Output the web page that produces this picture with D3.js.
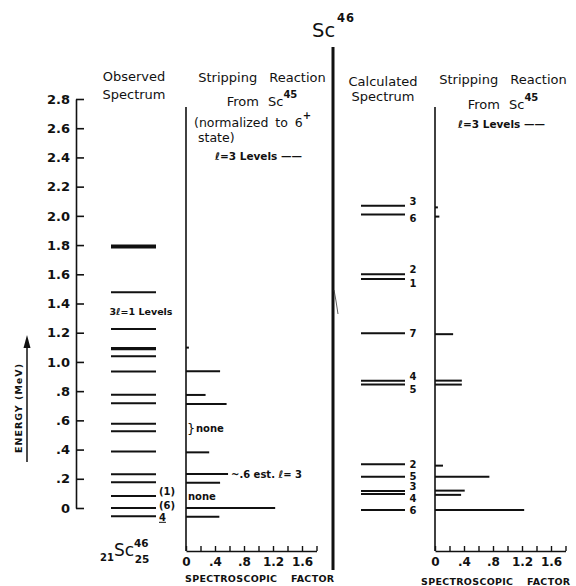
<!DOCTYPE html>
<html>
<head>
<meta charset="utf-8">
<script src="https://cdn.jsdelivr.net/npm/d3@7"></script>
<style>
  body { margin: 0; background: #fff; }
  text { font-family: "DejaVu Sans", sans-serif; fill: #111; }
</style>
</head>
<body>
<svg id="chart"></svg>
<script>
// energy axis (MeV)
const energyTicks = [0, 0.2, 0.4, 0.6, 0.8, 1.0, 1.2, 1.4, 1.6, 1.8, 2.0, 2.2, 2.4, 2.6, 2.8];
const energyTickLabels = ["0", ".2", ".4", ".6", ".8", "1.0", "1.2", "1.4", "1.6", "1.8", "2.0", "2.2", "2.4", "2.6", "2.8"];

// spectroscopic factor axis
const factorTicks = [0, 0.2, 0.4, 0.6, 0.8, 1.0, 1.2, 1.4, 1.6, 1.8];
const factorTickLabels = ["0", "", ".4", "", ".8", "", "1.2", "", "1.6", ""];

// observed spectrum levels
const observedE = [1.797, 1.790, 1.783, 1.477, 1.226, 1.096, 1.086, 1.039, 0.934, 0.776, 0.717, 0.577, 0.525, 0.386, 0.231, 0.176, 0.082, 0.0, -0.057];
const observedLabelE = [0.082, 0.0, -0.057];
const observedLabels = ["(1)", "(6)", "4"];

// stripping reaction (left panel)
const stripLeftE = [1.098, 0.936, 0.774, 0.712, 0.381, 0.233, 0.173, 0.0, -0.06];
const stripLeftS = [0.04, 0.47, 0.27, 0.56, 0.32, 0.58, 0.47, 1.23, 0.46];

// calculated spectrum
const calcE = [2.07, 2.01, 1.60, 1.568, 1.197, 0.872, 0.845, 0.299, 0.214, 0.116, 0.096, -0.014];
const calcJ = ["3", "6", "2", "1", "7", "4", "5", "2", "5", "3", "4", "6"];

// stripping reaction (right panel)
const stripRightE = [2.058, 1.995, 1.19, 0.872, 0.845, 0.29, 0.214, 0.119, 0.09, -0.014];
const stripRightS = [0.04, 0.06, 0.25, 0.37, 0.37, 0.11, 0.75, 0.41, 0.36, 1.23];

const width = 576, height = 586;
const svg = d3.select("#chart").attr("width", width).attr("height", height);

const yE = d3.scaleLinear().domain([0, 2.8]).range([508, 99]);
const xL = d3.scaleLinear().domain([0, 1.8]).range([186, 316.5]);
const xR = d3.scaleLinear().domain([0, 1.8]).range([435, 565.5]);

// title
const title = svg.append("text").attr("x", 312).attr("y", 37).style("font-size", "19.5px");
title.append("tspan").text("Sc");
title.append("tspan").attr("dy", -15).attr("dx", 2).style("font-size", "11.5px")
  .style("font-weight", "bold").style("letter-spacing", "1px").text("46");

// center divider
svg.append("line")
  .attr("x1", 333).attr("x2", 333).attr("y1", 47).attr("y2", 570)
  .attr("stroke", "#111").attr("stroke-width", 3);
svg.append("path")
  .attr("d", "M334,290 Q336,300 338,314")
  .attr("fill", "none").attr("stroke", "#333").attr("stroke-width", 0.8);

// energy axis
const yAxis = svg.append("g")
  .attr("transform", "translate(76,0)")
  .call(d3.axisLeft(yE).tickValues(energyTicks).tickSize(-8).tickSizeOuter(0).tickPadding(6)
    .tickFormat((d, i) => energyTickLabels[i]));
yAxis.select(".domain").attr("stroke", "#111").attr("stroke-width", 1.6);
yAxis.selectAll(".tick line").attr("stroke", "#111").attr("stroke-width", 1.6);
yAxis.selectAll(".tick text")
  .attr("fill", "#111")
  .style("font-size", "13px").style("font-weight", "bold")
  .style("font-family", "DejaVu Sans, sans-serif");

// energy label + arrow
svg.append("text")
  .attr("transform", "translate(21.5,408) rotate(-90)")
  .attr("text-anchor", "middle")
  .style("font-size", "9.5px").style("font-weight", "bold").style("letter-spacing", "1px")
  .text("ENERGY (MeV)");
svg.append("line")
  .attr("x1", 27).attr("x2", 27).attr("y1", 462).attr("y2", 345)
  .attr("stroke", "#111").attr("stroke-width", 1.5);
svg.append("path").attr("d", "M27,335 L23.5,348 L30.5,348 Z").attr("fill", "#111");

// column headings
function heading(lines, x) {
  lines.forEach(l => {
    const t = svg.append("text").attr("x", x).attr("y", l.y)
      .attr("text-anchor", l.anchor || "middle")
      .style("font-size", (l.size || 13) + "px")
      .style("word-spacing", (l.ws || 0) + "px");
    t.append("tspan").text(l.text);
    if (l.sup) {
      t.append("tspan").attr("dy", -8).style("font-size", "10px").style("font-weight", "bold").text(l.sup);
    }
  });
}
heading([{ text: "Observed", y: 81 }, { text: "Spectrum", y: 99 }], 134);
heading([{ text: "Stripping Reaction", y: 82, ws: 8 }, { text: "From Sc", sup: "45", y: 106, ws: 5 }], 262);
svg.append("text").attr("x", 194).attr("y", 127).style("font-size", "12.5px").style("word-spacing", "3px")
  .text("(normalized to 6")
  .append("tspan").attr("dy", -8).style("font-size", "10px").style("font-weight", "bold").text("+");
svg.append("text").attr("x", 198).attr("y", 142).style("font-size", "12.5px").text("state)");
heading([{ text: "Calculated", y: 86 }, { text: "Spectrum", y: 101 }], 383);
heading([{ text: "Stripping Reaction", y: 84, ws: 8 }, { text: "From Sc", sup: "45", y: 109, ws: 5 }], 503);

function levelsNote(x, y) {
  const t = svg.append("text").attr("x", x).attr("y", y).style("font-size", "10.5px").style("font-weight", "bold");
  t.append("tspan").style("font-style", "italic").text("ℓ");
  t.append("tspan").text("=3 Levels ——");
}
levelsNote(215, 160);
levelsNote(458, 128);

// observed spectrum
svg.append("g").selectAll("line").data(observedE).join("line")
  .attr("x1", 111).attr("x2", 156)
  .attr("y1", d => yE(d)).attr("y2", d => yE(d))
  .attr("stroke", "#111").attr("stroke-width", 2);
svg.append("g").selectAll("text").data(observedLabels).join("text")
  .attr("x", 159).attr("y", (d, i) => yE(observedLabelE[i]) + (i === 0 ? -1 : i === 1 ? 1 : 4.5))
  .style("font-size", "10px").style("font-weight", "bold")
  .style("text-decoration", d => d === "4" ? "underline" : "none")
  .text(d => d);
const l1 = svg.append("text").attr("x", 141).attr("y", 315).attr("text-anchor", "middle")
  .style("font-size", "9.5px").style("font-weight", "bold");
l1.append("tspan").text("3");
l1.append("tspan").style("font-style", "italic").text("ℓ");
l1.append("tspan").text("=1 Levels");

const sc = svg.append("text").attr("x", 100).attr("y", 556).style("font-weight", "bold");
sc.append("tspan").attr("dy", 5).style("font-size", "10px").text("21");
sc.append("tspan").attr("dy", -5).style("font-size", "17px").style("font-weight", "normal").text("Sc");
sc.append("tspan").attr("dy", -9).style("font-size", "10.5px").text("46");
sc.append("tspan").attr("dx", -14).attr("dy", 16).style("font-size", "10.5px").text("25");

// spectroscopic factor panels
function factorPanel(x, energies, factors, titleX, titleY) {
  svg.append("line")
    .attr("x1", x(0)).attr("x2", x(0)).attr("y1", 107).attr("y2", 551)
    .attr("stroke", "#111").attr("stroke-width", 1.6);
  const ax = svg.append("g")
    .attr("transform", "translate(0,551)")
    .call(d3.axisBottom(x).tickValues(factorTicks).tickSize(-5).tickSizeOuter(0).tickPadding(6)
      .tickFormat((d, i) => factorTickLabels[i]));
  ax.select(".domain").attr("stroke", "#111").attr("stroke-width", 1.6);
  ax.selectAll(".tick line").attr("stroke", "#111").attr("stroke-width", 1.4);
  ax.selectAll(".tick text").attr("fill", "#111")
    .style("font-size", "12px").style("font-weight", "bold")
    .style("font-family", "DejaVu Sans, sans-serif");
  svg.append("text").attr("x", titleX).attr("y", titleY)
    .style("font-size", "9.5px").style("font-weight", "bold").style("word-spacing", "10px")
    .style("letter-spacing", "0.3px")
    .text("SPECTROSCOPIC FACTOR");
  svg.append("g").selectAll("line").data(energies).join("line")
    .attr("x1", x(0)).attr("x2", (d, i) => x(factors[i]))
    .attr("y1", d => yE(d)).attr("y2", d => yE(d))
    .attr("stroke", "#111").attr("stroke-width", 2);
}
factorPanel(xL, stripLeftE, stripLeftS, 185, 582);
factorPanel(xR, stripRightE, stripRightS, 421, 585);

// left panel notes
svg.append("text").attr("x", 187).attr("y", 433).style("font-size", "13px").text("}");
svg.append("text").attr("x", 196).attr("y", 432).style("font-size", "10px").style("font-weight", "bold").text("none");
svg.append("text").attr("x", 188).attr("y", 500).style("font-size", "10px").style("font-weight", "bold").text("none");
const est = svg.append("text").attr("x", 231).attr("y", yE(0.233) + 4)
  .style("font-size", "10px").style("font-weight", "bold");
est.append("tspan").text("~.6 est. ");
est.append("tspan").style("font-style", "italic").text("ℓ");
est.append("tspan").text("= 3");

// calculated spectrum
svg.append("g").selectAll("line").data(calcE).join("line")
  .attr("x1", 361).attr("x2", 405)
  .attr("y1", d => yE(d)).attr("y2", d => yE(d))
  .attr("stroke", "#111").attr("stroke-width", 2);
svg.append("g").selectAll("text").data(calcJ).join("text")
  .attr("x", 413).attr("text-anchor", "middle")
  .attr("y", (d, i) => {
    let dy = 3.5;
    if (i + 1 < calcE.length && calcE[i] - calcE[i + 1] < 0.07) dy -= 4.5;
    if (i > 0 && calcE[i - 1] - calcE[i] < 0.07) dy += 4.5;
    return yE(calcE[i]) + dy;
  })
  .style("font-size", "10px").style("font-weight", "bold")
  .text(d => d);
</script>
</body>
</html>
